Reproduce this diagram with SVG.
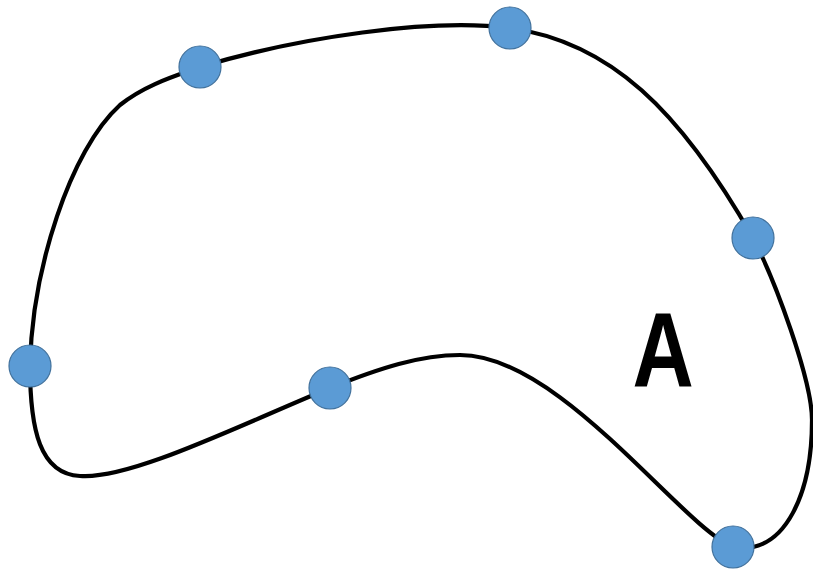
<svg xmlns="http://www.w3.org/2000/svg" width="813" height="570" viewBox="0 0 813 570">
<style>
.curve{fill:none;stroke:#000;stroke-width:4.2}
.dot{fill:#5B9BD5;stroke:#41719C;stroke-width:1.2}
.lbl{font-family:"Liberation Sans",Arial,sans-serif;font-weight:bold;font-size:106px;fill:#000}
</style>
<rect width="813" height="570" fill="#fff"/>
<g id="connectors">
<path class="curve" d="M200,67 C300,37 430,18 510,28 C610,42 680,110 753,238 C775,280 812,380 812,420 C812,495 785,550 740,548 L733,547 C680,525 560,355 460,355 C420,355 380,368 330,388 C240,425 130,480 80,476 C40,474 30,430 30,366 C32,270 70,150 120,105 C145,85 175,76 200,67 Z"/>
</g>
<g id="label-A"><text class="lbl" transform="translate(663,387) scale(0.8,1)" text-anchor="middle">A</text></g>
<g id="node1"><circle class="dot" cx="200" cy="67" r="21"/></g>
<g id="node2"><circle class="dot" cx="510" cy="28" r="21"/></g>
<g id="node3"><circle class="dot" cx="753" cy="238" r="21"/></g>
<g id="node4"><circle class="dot" cx="30" cy="366" r="21"/></g>
<g id="node5"><circle class="dot" cx="330" cy="388" r="21"/></g>
<g id="node6"><circle class="dot" cx="733" cy="547" r="21"/></g>
</svg>
